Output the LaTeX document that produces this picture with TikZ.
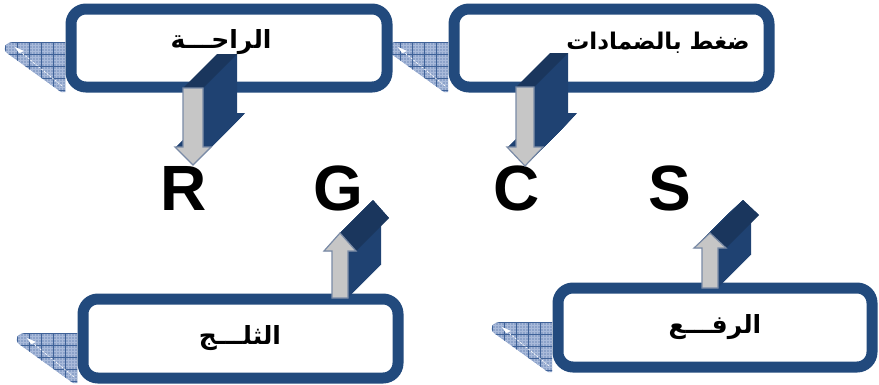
\documentclass[tikz,border=0pt]{standalone}
\usepackage{fontspec}
\setmainfont{Liberation Sans}
\newfontfamily\arabicfont[Script=Arabic]{DejaVu Sans}
\TeXXeTstate=1
\definecolor{boxblue}{HTML}{224A7D}
\definecolor{sidefill}{HTML}{1F4272}
\definecolor{topfill}{HTML}{1A365D}
\definecolor{grayfill}{HTML}{C6C6C6}
\definecolor{grayline}{HTML}{7A8BA6}
\definecolor{padfill}{HTML}{8CA2C9}
\definecolor{padgrid}{HTML}{3F6298}
\definecolor{padfine}{HTML}{A9BADA}
\tikzset{
  roundbox/.style={draw=boxblue, line width=11pt, rounded corners=15pt, fill=white, inner sep=0pt},
  boxtext/.style={font=\arabicfont\bfseries\fontsize{25}{28}\selectfont, inner sep=0pt},
  letter/.style={font=\bfseries\fontsize{64}{70}\selectfont, inner sep=0pt, anchor=base},
  arrowfront/.style={fill=grayfill, draw=grayline, line width=1.2pt, line join=miter}
}
% shadow pad: #1 right x, #2 top y
\newcommand\padshadow[2]{%
  \begin{scope}[shift={(#1,#2)}]
    \begin{scope}
      \clip (0,0) -- (-50,0) .. controls (-60,0) and (-63,6) .. (-58,11) -- (-4,50) -- (0,50) -- cycle;
      \fill[padfill] (-70,-5) rectangle (5,55);
      \foreach \k in {-66,-63,...,3}{\draw[padfine, line width=0.4pt] (\k,-5) -- (\k,55);}
      \foreach \k in {-3,0,...,54}{\draw[padfine, line width=0.4pt] (-70,\k) -- (5,\k);}
      \foreach \k in {-60,-48,...,0}{\draw[padgrid, line width=0.6pt] (\k,-5) -- (\k,55);}
      \foreach \k in {0,12,...,48}{\draw[padgrid, line width=0.6pt] (-70,\k) -- (5,\k);}
    \end{scope}
    \draw[white, line width=0.7pt, dash pattern=on 2pt off 1.5pt] (-48,7) -- (-3,44);
    \fill[white] (-50,5) -- (-41,9) -- (-46,11) -- cycle;
  \end{scope}}
% block arrow: #1 bx, #2 base y, #3 head y, #4 tip y, #5 shaft half width, #6 head half width, #7 offset, #8 up(1)/down(0)
\newcommand\blockarrow[8]{%
  \def\arrowpath{(#1-#5,#2) -- (#1-#5,#3) -- (#1-#6,#3) -- (#1,#4) -- (#1+#6,#3) -- (#1+#5,#3) -- (#1+#5,#2) -- cycle}
  \foreach \t in {0,1,...,#7}{\fill[sidefill, shift={(\t,-\t)}] \arrowpath;}
  \ifnum#8=0
    \fill[topfill] (#1-#5,#2) -- (#1+#5,#2) -- ++(#7,-#7) -- (#1-#5+#7,#2-#7) -- cycle;
  \else
    \fill[topfill] (#1,#4) -- (#1+#6,#3) -- ++(#7,-#7) -- (#1+#7,#4-#7) -- cycle;
  \fi
  \draw[arrowfront] \arrowpath;}
\begin{document}
\begin{tikzpicture}[x=1pt,y=-1pt]
\useasboundingbox (0,0) rectangle (879,384);
% shadows
\padshadow{448}{42}
\padshadow{65}{42}
\padshadow{77}{333}
\padshadow{552}{322}
% boxes
\node[roundbox, minimum width=316pt, minimum height=78pt] (b1) at (229,48) {};
\node[roundbox, minimum width=315pt, minimum height=78pt] (b2) at (611.5,48) {};
\node[roundbox, minimum width=315pt, minimum height=79pt] (b3) at (240.5,338.5) {};
\node[roundbox, minimum width=314pt, minimum height=79pt] (b4) at (715,327.5) {};
% texts
\node[boxtext] (t1) at (221,42) {\beginR الراحـــة\endR};
\node[boxtext, font=\arabicfont\bfseries\fontsize{23}{26}\selectfont] (t2) at (658,43) {\beginR ضغط بالضمادات\endR};
\node[boxtext] (t3) at (240,338) {\beginR الثلـــج\endR};
\node[boxtext] (t4) at (715,327) {\beginR الرفـــع\endR};
% letters
\node[letter] (R) at (184,210) {R};
\node[letter] (G) at (338,210) {G};
\node[letter] (C) at (517,210) {C};
\node[letter] (S) at (670,210) {S};
% block arrows
\blockarrow{193}{88}{147}{165}{10}{18}{34}{0}
\blockarrow{525}{87}{147}{166}{9}{18}{34}{0}
\blockarrow{340}{298}{251}{233}{8}{16}{33}{1}
\blockarrow{710}{288}{248}{233}{8}{16}{33}{1}
\end{tikzpicture}
\end{document}
